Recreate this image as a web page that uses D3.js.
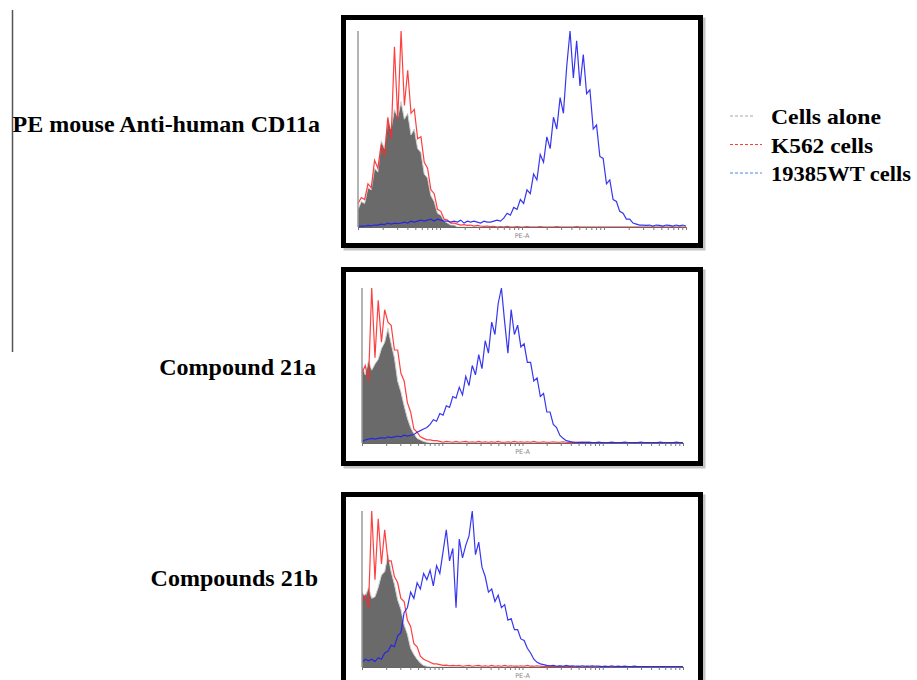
<!doctype html>
<html>
  <head>
    <meta charset="utf-8">
    <title>CD11a flow histograms</title>
    <style>
      * { margin: 0; padding: 0; }
      body { background: #fff; width: 917px; height: 680px; overflow: hidden; }
      .lbl { font-family: "Liberation Serif", "Times New Roman", serif; font-weight: bold; fill: #000; }
    </style>
    <script src="https://d3js.org/d3.v7.min.js"></script>
  </head>
  <body>
    <script>
      // histogram heights in % of full scale, 100 bins over 4 log decades
      const panelNames = ["PE mouse Anti-human CD11a", "Compound 21a", "Compounds 21b"];
      const legendNames = ["Cells alone", "K562 cells", "19385WT cells"];

      const gray1 = [9,13,12,20,19,30,28,44,40,54, 50,60,56,64,55,58,47,50,40,38, 27,25,16,13,7,6,3,2,1,1,
        0,0,0,0,0,0,0,0,0,0, 0,0,0,0,0,0,0,0,0,0, 0,0,0,0,0,0,0,0,0,0, 0,0,0,0,0,0,0,0,0,0,
        0,0,0,0,0,0,0,0,0,0, 0,0,0,0,0,0,0,0,0,0, 0,0,0,0,0,0,0,0,0,0];
      const red1 = [12,15,14,22,20,34,30,42,36,56, 45,92,55,100,62,80,58,60,45,46, 33,30,19,17,9,8,4,3.5,2,2,
        1.5,1,1.2,0.8,1,0.5,0.8,0.5,0.3,0.5, 0.2,0.3,0,0.2,0,0.3,0,0,0.2,0, 0,0.2,0,0,0,0.2,0,0,0,0,
        0.2,0,0,0,0,0,0.2,0,0,0, 0,0,0,0,0,0,0,0,0,0, 0,0,0,0,0,0,0,0,0,0, 0,0,0,0,0,0,0,0,0,0];
      const blue1 = [0.3,0.5,0.4,0.8,0.6,1,1,1.5,1.2,2, 1.5,2,1.8,2,2.5,2,3,2.5,3,3.5, 3,3.5,4,3,4,3.5,3,3,2.5,3,
        2.5,3.5,2,3,2.5,3,2.5,2,3,2.5, 2.5,3,3.5,3,4.5,7,6,10,9,14, 12,19,17,27,24,37,33,46,40,56,
        50,66,58,82,100,76,95,72,88,68, 70,50,52,36,35,22,24,14,13,8, 7,4,4,2,1.5,1,1,0.8,1,0.5,
        1,0.8,0.5,1,0.8,0.5,1,0.6,1,0.5];

      const gray2 = [50,44,53,47,51,54,61,65,74,64, 55,40,33,24,16,10,6,3,2,1, 0.5,0,0,0,0,0,0,0,0,0,
        0,0,0,0,0,0,0,0,0,0, 0,0,0,0,0,0,0,0,0,0, 0,0,0,0,0,0,0,0,0,0, 0,0,0,0,0,0,0,0,0,0,
        0,0,0,0,0,0,0,0,0,0, 0,0,0,0,0,0,0,0,0,0, 0,0,0,0,0,0,0,0,0,0];
      const red2 = [45,50,40,100,55,92,65,86,78,76, 60,60,45,40,26,20,9,7,4,3, 2,2,1.5,1.5,1,0.5,1,0.8,0.5,1,
        0.5,0.8,1,0.5,0.8,0.5,1,0.5,0.8,0.5, 0.8,0.5,1,0.5,0.5,0.8,0.5,1,0.5,0.8, 0.5,0.8,0.5,1,0.5,0.5,0.8,0.5,0.5,0.8,
        0.5,0.5,0.8,0.5,0.3,0.5,0.3,0.5,0.3,0.5, 0.3,0,0.3,0,0.3,0,0,0.3,0,0, 0.3,0,0,0,0.3,0,0,0,0.3,0,
        0,0.3,0,0,0,0.3,0,0,0,0];
      const blue2 = [1,2,2.5,3,2.5,3,3.5,3,4,3.5, 4,4.5,4,5,4.5,5,5.5,7,8,9, 10,12,15,14,19,18,24,23,30,29,
        36,31,43,37,50,44,57,48,66,58, 78,70,90,100,78,58,86,70,76,62, 64,52,52,40,42,30,32,20,20,12,
        10,5,3,1.5,1,0.5,0.5,0.3,0.5,0.3, 0.5,0.3,0.3,0.5,0.3,0.3,0.3,0.5,0.3,0.3, 0.3,0.5,0.3,0.3,0.3,0.3,0.5,0.3,0.3,0.3,
        0.3,0.3,0.5,0.3,0.3,0.3,0.3,0.5,0.3,0.3];

      const gray3 = [48,45,51,44,45,51,59,61,72,61, 53,43,37,27,21,12,8,5,2.5,1, 0.5,0,0,0,0,0,0,0,0,0,
        0,0,0,0,0,0,0,0,0,0, 0,0,0,0,0,0,0,0,0,0, 0,0,0,0,0,0,0,0,0,0, 0,0,0,0,0,0,0,0,0,0,
        0,0,0,0,0,0,0,0,0,0, 0,0,0,0,0,0,0,0,0,0, 0,0,0,0,0,0,0,0,0,0];
      const red3 = [42,46,38,100,56,95,66,88,68,68, 58,54,44,42,30,26,15,13,7,5, 4,3,2,2,1.5,1,1.2,0.8,1,0.8,
        1,0.5,0.8,1,0.5,0.8,1,0.5,0.8,0.5, 1,0.5,0.8,0.5,1,0.5,0.8,0.5,0.5,0.8, 0.5,1,0.5,0.5,0.8,0.5,0.3,0.5,0.3,0.5,
        0.3,0.5,0.3,0.3,0.5,0.3,0,0.3,0,0.3, 0,0.3,0,0,0.3,0,0,0.3,0,0, 0,0,0.3,0,0,0,0,0.3,0,0,
        0,0,0,0.3,0,0,0,0,0,0];
      const blue3 = [3,5,4,5,3.5,6,5,9,10,14, 13,20,22,35,38,48,44,54,50,60, 56,62,52,65,60,74,88,68,76,38,
        82,70,78,84,100,72,80,64,58,48, 50,42,46,38,40,30,31,24,24,18, 17,12,9,5,3,2,1.5,1,0.8,1,
        0.5,0.8,0.5,1,0.5,0.8,0.5,0.5,0.8,0.5, 0.5,0.8,0.5,0.5,0.3,0.5,0.3,0.8,0.3,0.5, 0.3,0.5,0.3,0.3,0.5,0.3,0.3,0.3,0.3,0.3,
        0.3,0.3,0.3,0.3,0.3,0.3,0.3,0.3,0.3,0.3];

      const grays = [gray1, gray2, gray3];
      const reds = [red1, red2, red3];
      const blues = [blue1, blue2, blue3];

      const svg = d3.select("body").append("svg").attr("width", 917).attr("height", 680);

      // left guide line
      svg.append("line").attr("x1", 12.5).attr("x2", 12.5).attr("y1", 10).attr("y2", 352)
        .attr("stroke", "#555").attr("stroke-width", 1.5);

      // frame + plot box for each panel
      const boxes = [
        { fx: 343.5, fy: 17.5, fw: 357, fh: 228, x0: 358, x1: 686, top: 31, base: 227, label: 132 },
        { fx: 343.5, fy: 269.5, fw: 357, fh: 194, x0: 362, x1: 683, top: 288, base: 443, label: 375 },
        { fx: 343.5, fy: 494.5, fw: 357, fh: 194, x0: 362, x1: 683, top: 511, base: 667, label: 586 }
      ];
      const labelRight = [320, 316, 318];

      boxes.forEach(function (b, p) {
        const g = svg.append("g");
        // soft shadow
        g.append("rect").attr("x", b.fx + 2.5).attr("y", b.fy + 2.5).attr("width", b.fw).attr("height", b.fh)
          .attr("fill", "none").attr("stroke", "#c4c4c4").attr("stroke-width", 5);
        g.append("rect").attr("x", b.fx).attr("y", b.fy).attr("width", b.fw).attr("height", b.fh)
          .attr("fill", "#fff").attr("stroke", "#000").attr("stroke-width", 5);

        const n = grays[p].length;
        const x = d3.scaleLinear().domain([0, n - 1]).range([b.x0, b.x1]);
        const y = d3.scaleLinear().domain([0, 100]).range([b.base, b.top]);
        const xLog = d3.scaleLog().domain([10, 100000]).range([b.x0, b.x1]);

        const area = d3.area().x((d, i) => x(i)).y0(b.base).y1(d => y(d));
        const line = d3.line().x((d, i) => x(i)).y(d => y(d));

        g.append("path").datum(grays[p]).attr("d", area).attr("fill", "#6a6a6a");
        g.append("path").datum(grays[p]).attr("d", line).attr("fill", "none")
          .attr("stroke", "#d2d2d2").attr("stroke-width", 1);
        g.append("path").datum(reds[p]).attr("d", line).attr("fill", "none")
          .attr("stroke", "#ff2a2a").attr("stroke-width", 1.2).attr("stroke-opacity", 0.9);
        g.append("path").datum(blues[p]).attr("d", line).attr("fill", "none")
          .attr("stroke", "#2020f0").attr("stroke-width", 1.2).attr("stroke-opacity", 0.9);

        // y axis drawn as the gray left line
        g.append("line").attr("x1", b.x0).attr("x2", b.x0).attr("y1", b.top).attr("y2", b.base)
          .attr("stroke", "#9a9a9a").attr("stroke-width", 1.5);

        const ax = g.append("g").attr("transform", "translate(0," + b.base + ")")
          .call(d3.axisBottom(xLog).tickSize(3).tickSizeOuter(0).tickFormat(""));
        ax.select(".domain").attr("stroke", "#666");
        ax.selectAll(".tick line").attr("stroke", "#777");

        g.append("text").attr("x", (b.x0 + b.x1) / 2).attr("y", b.base + 11)
          .attr("text-anchor", "middle").attr("font-family", "DejaVu Sans").attr("font-size", 6.5)
          .attr("fill", "#888").text("PE-A");

        svg.append("text").attr("class", "lbl").attr("x", labelRight[p]).attr("y", b.label)
          .attr("text-anchor", "end").attr("font-size", 24).text(panelNames[p]);
      });

      // legend
      const legColors = ["#a8a8a8", "#f04040", "#4a8ad8"];
      const legLen = [25, 32, 32];
      const legWidth = [110, 102, 140];
      legendNames.forEach(function (name, i) {
        const yy = 116 + i * 28.5;
        svg.append("line").attr("x1", 730).attr("x2", 730 + legLen[i]).attr("y1", yy).attr("y2", yy)
          .attr("stroke", legColors[i]).attr("stroke-width", 1.2).attr("stroke-dasharray", "3,2");
        svg.append("text").attr("class", "lbl").attr("x", 771).attr("y", yy + 8)
          .attr("font-size", 22).attr("textLength", legWidth[i]).attr("lengthAdjust", "spacingAndGlyphs")
          .text(name);
      });
    </script>
  </body>
</html>
